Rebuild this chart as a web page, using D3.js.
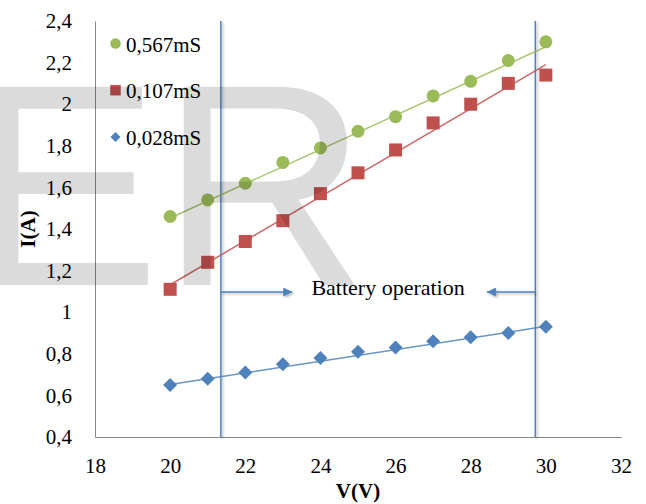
<!DOCTYPE html>
<html>
<head>
<meta charset="utf-8">
<script src="https://cdn.jsdelivr.net/npm/d3@7"></script>
<style>
  html, body { margin: 0; padding: 0; background: #fff; }
  svg { display: block; }
</style>
</head>
<body>
<svg id="chart" width="646" height="504"></svg>
<script>
// Supply voltage (V) at each measurement
const voltages = [20, 21, 22, 23, 24, 25, 26, 27, 28, 29, 30];

// Current (A) for each conductance setting
const seriesNames = ["0,567mS", "0,107mS", "0,028mS"];
const current567 = [1.46, 1.54, 1.62, 1.72, 1.79, 1.87, 1.94, 2.04, 2.11, 2.21, 2.30];
const current107 = [1.11, 1.24, 1.34, 1.44, 1.57, 1.67, 1.78, 1.91, 2.00, 2.10, 2.14];
const current028 = [0.65, 0.68, 0.71, 0.75, 0.78, 0.81, 0.83, 0.86, 0.88, 0.90, 0.93];

// Linear trend lines: current at the first and last voltage
const trendStart = [1.453, 1.132, 0.652];
const trendEnd   = [2.276, 2.190, 0.932];

// Axis ticks
const xTicks = [18, 20, 22, 24, 26, 28, 30, 32];
const xTickLabels = ["18", "20", "22", "24", "26", "28", "30", "32"];
const yTicks = [0.4, 0.6, 0.8, 1.0, 1.2, 1.4, 1.6, 1.8, 2.0, 2.2, 2.4];
const yTickLabels = ["0,4", "0,6", "0,8", "1", "1,2", "1,4", "1,6", "1,8", "2", "2,2", "2,4"];

// Battery operating window (V) and its annotation
const batteryBounds = [21.35, 29.72];
const arrowTips = [23.25, 28.43];
const arrowLevel = 1.097;
const annotationText = "Battery operation";
const annotationPos = [25.8, 1.083];

const colors = ["#9BBB59", "#C0504D", "#4F81BD"];
const shapes = ["circle", "square", "diamond"];

const SERIF = "'Liberation Serif', 'Times New Roman', serif";
const SANS = "'Liberation Sans', Arial, sans-serif";

const svg = d3.select("#chart");
const x = d3.scaleLinear().domain([18, 32]).range([95, 621]);
const y = d3.scaleLinear().domain([0.4, 2.4]).range([437, 21]);

const defs = svg.append("defs");
const shadow = defs.append("filter").attr("id", "shadow")
  .attr("filterUnits", "userSpaceOnUse")
  .attr("x", 0).attr("y", 0).attr("width", 646).attr("height", 504);
shadow.append("feDropShadow").attr("dx", 1.5).attr("dy", 1.5)
  .attr("stdDeviation", 1.2).attr("flood-color", "#000").attr("flood-opacity", 0.3);

defs.append("marker").attr("id", "arrowHead")
  .attr("viewBox", "0 0 10 10").attr("refX", 10).attr("refY", 5)
  .attr("markerWidth", 10).attr("markerHeight", 9).attr("markerUnits", "userSpaceOnUse")
  .attr("orient", "auto")
  .append("path").attr("d", "M0,0 L10,5 L0,10 Z").attr("fill", colors[2]);

// Axes
const xAxis = d3.axisBottom(x).tickValues(xTicks)
  .tickFormat((d, i) => xTickLabels[i]).tickSize(0).tickSizeOuter(0);
const yAxis = d3.axisLeft(y).tickValues(yTicks)
  .tickFormat((d, i) => yTickLabels[i]).tickSize(0).tickSizeOuter(0);

const gx = svg.append("g").attr("transform", `translate(0,${y(0.4)})`).call(xAxis);
const gy = svg.append("g").attr("transform", `translate(${x(18)},0)`).call(yAxis);
[gx, gy].forEach(g => {
  g.attr("font-family", null).attr("font-size", null);
  g.select(".domain").attr("stroke", "#868686").attr("stroke-width", 1);
  g.selectAll("text").style("font-family", SERIF)
    .style("font-size", "21px").attr("fill", "#000");
});
gx.selectAll("text").attr("y", 36).attr("dy", 0);
gy.selectAll("text").attr("x", -23).attr("dy", "0.32em");

// Axis titles
svg.append("text").attr("x", (x(18) + x(32)) / 2).attr("y", 498)
  .attr("text-anchor", "middle").style("font-family", SERIF).style("font-size", "21px")
  .style("font-weight", "bold").text("V(V)");
svg.append("text")
  .attr("transform", `translate(35,${(y(0.4) + y(2.4)) / 2}) rotate(-90)`)
  .attr("text-anchor", "middle").style("font-family", SERIF).style("font-size", "21px")
  .style("font-weight", "bold").text("I(A)");

// Battery window boundaries
svg.append("g").selectAll("line").data(batteryBounds).join("line")
  .attr("x1", d => x(d)).attr("x2", d => x(d))
  .attr("y1", y(2.4)).attr("y2", y(0.4))
  .attr("stroke", colors[2]).attr("stroke-width", 1.5)
  .attr("filter", "url(#shadow)");

// Arrows pointing inward from each boundary
svg.append("g").selectAll("line").data(batteryBounds).join("line")
  .attr("x1", d => x(d)).attr("x2", (d, i) => x(arrowTips[i]))
  .attr("y1", y(arrowLevel)).attr("y2", y(arrowLevel))
  .attr("stroke", colors[2]).attr("stroke-width", 1.5)
  .attr("marker-end", "url(#arrowHead)")
  .attr("filter", "url(#shadow)");

svg.append("text").attr("x", x(annotationPos[0])).attr("y", y(annotationPos[1]))
  .attr("text-anchor", "middle").style("font-family", SERIF).style("font-size", "22px")
  .text(annotationText);

// Series data
const series = [current567, current107, current028].map((vals, i) => ({
  name: seriesNames[i], color: colors[i], shape: shapes[i],
  points: voltages.map((v, j) => ({ v, c: vals[j] })),
  trend: [{ v: voltages[0], c: trendStart[i] }, { v: voltages[voltages.length - 1], c: trendEnd[i] }]
}));

const line = d3.line().x(d => x(d.v)).y(d => y(d.c));

function drawMarker(sel, shape, color, size) {
  if (shape === "circle") {
    sel.append("circle").attr("r", size / 2).attr("fill", color);
  } else if (shape === "square") {
    sel.append("rect").attr("x", -size / 2).attr("y", -size / 2)
      .attr("width", size).attr("height", size).attr("fill", color);
  } else {
    const h = size / 2;
    sel.append("path").attr("d", `M0,${-h} L${h},0 L0,${h} L${-h},0 Z`).attr("fill", color);
  }
}

series.forEach(s => {
  svg.append("path").datum(s.trend).attr("d", line)
    .attr("fill", "none").attr("stroke", s.color).attr("stroke-width", 1.5)
    .attr("stroke-opacity", 0.85);
  const g = svg.append("g");
  g.selectAll("g").data(s.points).join("g")
    .attr("transform", d => `translate(${x(d.v)},${y(d.c)})`)
    .each(function () { drawMarker(d3.select(this), s.shape, s.color, s.shape === "diamond" ? 14 : 13); });
});

// Legend
const legend = svg.append("g");
series.forEach((s, i) => {
  const row = legend.append("g").attr("transform", `translate(115.5,${43.5 + i * 46.7})`);
  drawMarker(row, s.shape, s.color, s.shape === "diamond" ? 10 : 10.5);
  row.append("text").attr("x", 10.5).attr("y", 8)
    .style("font-family", SERIF).style("font-size", "21px").text(s.name);
});

// "ER" mark laid over the chart
svg.append("text").attr("x", -32).attr("y", 285)
  .style("font-family", SANS).style("font-size", "288px")
  .attr("fill", "#000").attr("fill-opacity", 0.14)
  .attr("pointer-events", "none")
  .text("ER");
</script>
</body>
</html>
